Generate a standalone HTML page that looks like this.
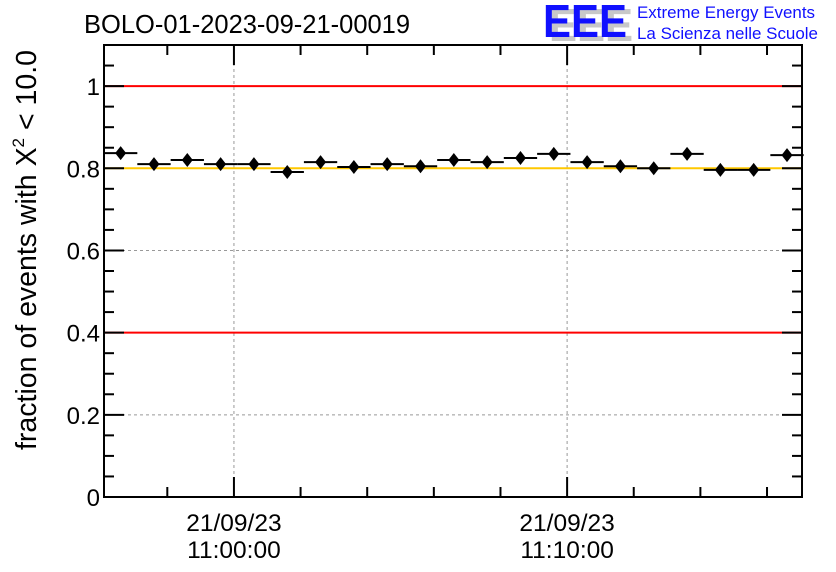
<!DOCTYPE html>
<html><head><meta charset="utf-8"><style>
body{margin:0;background:#fff;}
svg{display:block;font-family:"Liberation Sans",sans-serif;}
</style></head><body>
<svg id="chart" width="836" height="572">
<text x="84" y="33" font-size="25.5">BOLO-01-2023-09-21-00019</text>
<g>
<text x="549" y="41" font-size="46" font-weight="bold" fill="#c8c8c8" textLength="84" lengthAdjust="spacingAndGlyphs">EEE</text>
<text x="543" y="37" font-size="46" font-weight="bold" fill="#1010ff" textLength="84" lengthAdjust="spacingAndGlyphs">EEE</text>
<text x="637" y="18" font-size="16.5" fill="#1010ff" textLength="178" lengthAdjust="spacingAndGlyphs">Extreme Energy Events</text>
<text x="637" y="39" font-size="16.5" fill="#1010ff" textLength="181" lengthAdjust="spacingAndGlyphs">La Scienza nelle Scuole</text>
</g>
<text transform="translate(36,250) rotate(-90)" text-anchor="middle" font-size="28.5">fraction of events with X<tspan dy="-12" font-size="17">2</tspan><tspan dy="12"> &lt; 10.0</tspan></text>
<g id="plot"></g>
</svg>
<script>
const binOffsetsMin=[-3.4,-2.4,-1.4,-0.4,0.6,1.6,2.6,3.6,4.6,5.6,6.6,7.6,8.6,9.6,10.6,11.6,12.6,13.6,14.6,15.6,16.6];
const fractions=[0.837,0.810,0.820,0.810,0.810,0.791,0.815,0.803,0.810,0.805,0.820,0.815,0.825,0.835,0.815,0.805,0.800,0.835,0.796,0.796,0.832];
const yTicks=[0,0.2,0.4,0.6,0.8,1];
const yTickLabels=["0","0.2","0.4","0.6","0.8","1"];
const xMajor=[0,10];
const xMajorLabels=[["21/09/23","11:00:00"],["21/09/23","11:10:00"]];
const refLines=[1.0,0.8,0.4];
const refColors=["#ff0000","#ffc800","#ff0000"];
const L=104,R=802,T=45,B=497,X0=-3.9,X1=17.05,Y0=0,Y1=1.1;
const xs=t=>L+(t-X0)/(X1-X0)*(R-L);
const ys=v=>B-(v-Y0)/(Y1-Y0)*(B-T);
const g=document.getElementById('plot');
const NS='http://www.w3.org/2000/svg';
function mk(tag,a){const e=document.createElementNS(NS,tag);for(const k in a)e.setAttribute(k,a[k]);g.appendChild(e);return e;}
yTicks.forEach(v=>{if(v>0&&v<1){const e=mk('line',{x1:L,x2:R,y1:ys(v),y2:ys(v),stroke:'#999','stroke-dasharray':'3,3'});

}});
xMajor.forEach(t=>{const e=mk('line',{x1:xs(t),x2:xs(t),y1:T,y2:B,stroke:'#999','stroke-dasharray':'3,3'});

});
refLines.forEach((v,i)=>{const e=mk('line',{x1:L,x2:R,y1:ys(v),y2:ys(v),stroke:refColors[i],'stroke-width':2});

});
for(let k=0;k<=22;k++){const v=k*0.05;const maj=k%4==0;const len=maj?20:10;
mk('line',{x1:L,x2:L+len,y1:ys(v),y2:ys(v),stroke:'#000','stroke-width':2});
mk('line',{x1:R,x2:R-len,y1:ys(v),y2:ys(v),stroke:'#000','stroke-width':2});}
yTicks.forEach((v,i)=>{const e=mk('text',{x:L-4,y:ys(v)+9,'text-anchor':'end','font-size':24});e.textContent=yTickLabels[i];

});
for(let t=-2;t<=16;t+=2){const maj=t%10==0;const len=maj?20:10;
mk('line',{x1:xs(t),x2:xs(t),y1:B,y2:B-len,stroke:'#000','stroke-width':2});
mk('line',{x1:xs(t),x2:xs(t),y1:T,y2:T+len,stroke:'#000','stroke-width':2});}
xMajor.forEach((t,i)=>{xMajorLabels[i].forEach((s,j)=>{const e=mk('text',{x:xs(t),y:531+j*27,'text-anchor':'middle','font-size':24.5});e.textContent=s;

});});
binOffsetsMin.forEach((t,i)=>{const y=ys(fractions[i]);
const h=mk('line',{x1:xs(t-0.5),x2:xs(t+0.5),y1:y,y2:y,stroke:'#000','stroke-width':2});


const p=mk('path',{d:`M${xs(t)},${y-7}L${xs(t)+5.5},${y}L${xs(t)},${y+7}L${xs(t)-5.5},${y}Z`,fill:'#000'});

});
const f=mk('rect',{x:L,y:T,width:R-L,height:B-T,fill:'none',stroke:'#000','stroke-width':2});


</script>
</body></html>
